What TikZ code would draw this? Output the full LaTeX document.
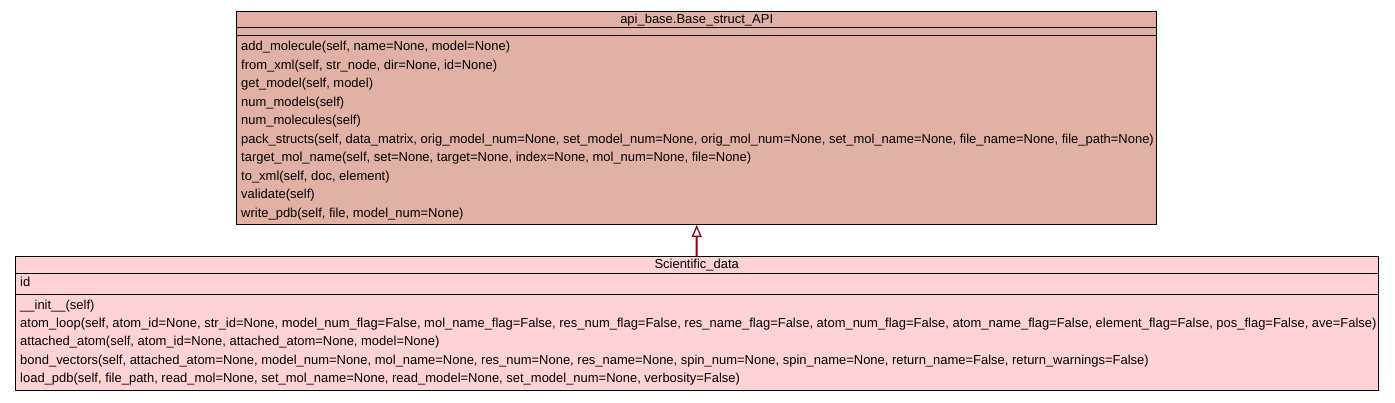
\documentclass[tikz,border=0pt]{standalone}
\usepackage{fontspec}
\setmainfont{Liberation Sans}
\usetikzlibrary{arrows.meta,positioning}
\definecolor{basefill}{HTML}{E2B1A5}
\definecolor{scifill}{HTML}{FFD2D6}
\definecolor{inhred}{HTML}{990000}

\begin{document}
\begin{tikzpicture}[x=1pt,y=-1pt,
    classbox/.style={draw, line width=1pt, inner sep=0pt, outer sep=0pt},
    member/.style={anchor=base west, inner sep=0pt, font=\fontsize{12.97}{14}\selectfont},
    classname/.style={anchor=base, inner sep=0pt, font=\fontsize{12.97}{14}\selectfont},
    inherit/.style={draw=inhred, line width=2pt, -{Triangle[open, width=10pt, length=12pt, line width=1.3pt]}}]
    \useasboundingbox (0,0) rectangle (1395,403);
    \node[classbox, fill=basefill, minimum width=920pt, minimum height=213.3pt] (base) at (696.7,118.35) {};
    \node[classbox, fill=scifill, minimum width=1362.7pt, minimum height=133.3pt] (sci) at (696.65,323.35) {};
    \draw[line width=1.3pt] (236.7,27.7) -- (1156.7,27.7) (236.7,35.7) -- (1156.7,35.7);
    \draw[line width=1.3pt] (15.3,273.3) -- (1378,273.3) (15.3,294.3) -- (1378,294.3);
    \node[classname] (basename) at (696.7,24) {api\_base.Base\_struct\_API};
    \node[classname] (sciname) at (696.7,268.3) {Scientific\_data};
    \foreach \txt [count=\i] in {
        {add\_molecule(self, name=None, model=None)},
        {from\_xml(self, str\_node, dir=None, id=None)},
        {get\_model(self, model)},
        {num\_models(self)},
        {num\_molecules(self)},
        {pack\_structs(self, data\_matrix, orig\_model\_num=None, set\_model\_num=None, orig\_mol\_num=None, set\_mol\_name=None, file\_name=None, file\_path=None)},
        {target\_mol\_name(self, set=None, target=None, index=None, mol\_num=None, file=None)},
        {to\_xml(self, doc, element)},
        {validate(self)},
        {write\_pdb(self, file, model\_num=None)}}
        \node[member] (bm\i) at (241,{50.7+18.5*(\i-1)}) {\txt};
    \node[member] (sattr) at (20,286.7) {id};
    \foreach \txt [count=\i] in {
        {\_\_init\_\_(self)},
        {atom\_loop(self, atom\_id=None, str\_id=None, model\_num\_flag=False, mol\_name\_flag=False, res\_num\_flag=False, res\_name\_flag=False, atom\_num\_flag=False, atom\_name\_flag=False, element\_flag=False, pos\_flag=False, ave=False)},
        {attached\_atom(self, atom\_id=None, attached\_atom=None, model=None)},
        {bond\_vectors(self, attached\_atom=None, model\_num=None, mol\_name=None, res\_num=None, res\_name=None, spin\_num=None, spin\_name=None, return\_name=False, return\_warnings=False)},
        {load\_pdb(self, file\_path, read\_mol=None, set\_mol\_name=None, read\_model=None, set\_model\_num=None, verbosity=False)}}
        \node[member] (sm\i) at (20,{309.3+18.25*(\i-1)}) {\txt};
    \draw[inherit] (sci.north) -- (base.south);
\end{tikzpicture}
\end{document}
